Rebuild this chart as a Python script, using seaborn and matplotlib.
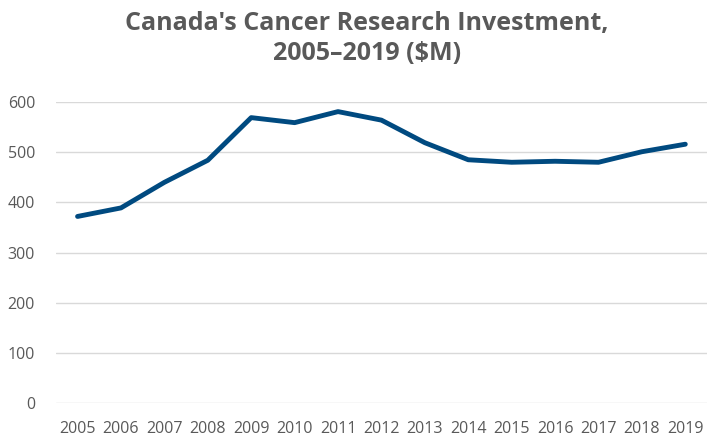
import pandas as pd
import matplotlib.pyplot as plt
import seaborn as sns

# Values ($M)
years = ['2005', '2006', '2007', '2008', '2009', '2010', '2011', '2012',
         '2013', '2014', '2015', '2016', '2017', '2018', '2019']
investment = [372, 389, 440, 484, 569, 559, 581, 564,
              519, 485, 480, 482, 480, 501, 516]
y_ticks = [0, 100, 200, 300, 400, 500, 600]

data = pd.DataFrame({'year': years, 'investment': investment})

sns.set_theme(style='white')
plt.rcParams['font.family'] = ['Open Sans', 'DejaVu Sans']

fig = plt.figure(figsize=(7.07, 4.40), dpi=100)
ax = fig.add_axes([0.079, 0.084, 0.921, 0.684])

sns.lineplot(data=data, x='year', y='investment', sort=False,
             color='#004A80', linewidth=3.5, ax=ax, solid_capstyle='round')

ax.set_ylim(0, 600)
ax.set_xlim(-0.5, len(years) - 0.5)
ax.set_yticks(y_ticks)
ax.grid(axis='y', color='#D9D9D9', linewidth=1)
ax.set_axisbelow(True)
for side in ['top', 'right', 'left', 'bottom']:
    ax.spines[side].set_visible(False)
ax.tick_params(axis='both', length=0, labelsize=11.5, labelcolor='#595959')
ax.tick_params(axis='x', pad=13)
ax.tick_params(axis='y', pad=15)
ax.set_xlabel('')
ax.set_ylabel('')

fig.text(0.519, 0.975, "Canada's Cancer Research Investment,\n2005\u20132019 ($M)",
         ha='center', va='top', fontsize=18, fontweight='bold', color='#595959',
         linespacing=1.25)

fig.savefig('out.png', dpi=100)
